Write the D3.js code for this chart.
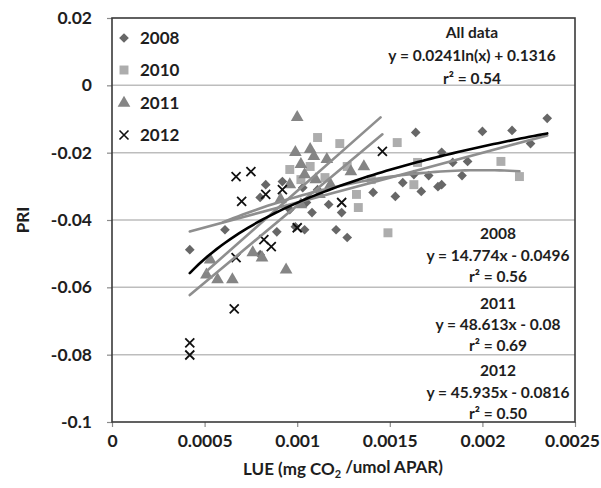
<!DOCTYPE html>
<html>
<head>
<meta charset="utf-8">
<script src="https://cdn.jsdelivr.net/npm/d3@7"></script>
<style>
  html, body { margin: 0; padding: 0; background: #fff; }
  svg { display: block; font-family: Lato, "Open Sans", sans-serif; }
</style>
</head>
<body>
<svg id="chart" width="601" height="488"></svg>
<script>
// ---- data: LUE (x) vs PRI (y) per year ----
const lue2008 = [0.00164,0.00200,0.00216,0.00235,0.00226,0.00178,0.00184,0.00192,0.00189,0.00178,0.00176,0.00167,0.00171,0.00163,0.00157,0.00153,0.00141,0.00117,0.00108,0.00105,0.00124,0.00121,0.00127,0.00104,0.00042,0.00061,0.00089,0.00080,0.00099,0.00083,0.00092,0.00080,0.00096,0.00103,0.00111];
const pri2008 = [-0.0140,-0.0137,-0.0134,-0.0098,-0.0173,-0.0199,-0.0229,-0.0226,-0.0268,-0.0295,-0.0301,-0.0315,-0.0268,-0.0265,-0.0289,-0.0330,-0.0318,-0.0354,-0.0378,-0.0348,-0.0378,-0.0429,-0.0452,-0.0429,-0.0488,-0.0429,-0.0435,-0.0503,-0.0420,-0.0295,-0.0286,-0.0333,-0.0369,-0.0304,-0.0310];

const lue2010 = [0.00111,0.00123,0.00154,0.00107,0.00132,0.00133,0.00149,0.00165,0.00210,0.00220,0.00163,0.00127,0.00096,0.00102,0.00115,0.00140];
const pri2010 = [-0.0155,-0.0173,-0.0170,-0.0241,-0.0324,-0.0363,-0.0438,-0.0229,-0.0226,-0.0271,-0.0295,-0.0241,-0.0250,-0.0280,-0.0274,-0.0280];

const lue2011 = [0.00100,0.00099,0.00107,0.00109,0.00116,0.00129,0.00136,0.00051,0.00057,0.00065,0.00076,0.00081,0.00094,0.00053,0.00102,0.00104,0.00096,0.00110,0.00091,0.00102,0.00112,0.00118];
const pri2011 = [-0.0095,-0.0199,-0.0190,-0.0211,-0.0220,-0.0256,-0.0241,-0.0563,-0.0577,-0.0577,-0.0497,-0.0512,-0.0548,-0.0518,-0.0235,-0.0265,-0.0295,-0.0280,-0.0339,-0.0354,-0.0324,-0.0295];

const lue2012 = [0.00042,0.00042,0.00066,0.00067,0.00082,0.00086,0.00100,0.00070,0.00067,0.00075,0.00083,0.00092,0.00124,0.00146];
const pri2012 = [-0.0765,-0.0801,-0.0664,-0.0512,-0.0458,-0.0479,-0.0423,-0.0345,-0.0271,-0.0256,-0.0324,-0.0310,-0.0348,-0.0196];

// legend / series names
const seriesNames = ["2008", "2010", "2011", "2012"];

// fitted trend lines: [slope, intercept] and x-extent
const fit2008 = [14.774, -0.0496], range2008 = [0.00042, 0.00235];
const fit2011 = [48.613, -0.08],   range2011 = [0.00051, 0.00145];
const fit2012 = [45.935, -0.0816], range2012 = [0.00042, 0.00146];
// 2010 polynomial fit: c0 + c1*x + c2*x^2
const fit2010 = [-0.0567, 31.496, -7874], range2010 = [0.00060, 0.00220];
// all data: a*ln(x) + b
const fitAll = [0.0241, 0.1316], rangeAll = [0.00042, 0.00235];

// axis ticks
const xTicks = [0, 0.0005, 0.001, 0.0015, 0.002, 0.0025];
const xTickLabels = ["0", "0.0005", "0.001", "0.0015", "0.002", "0.0025"];
const yTicks = [0.02, 0, -0.02, -0.04, -0.06, -0.08, -0.1];
const yTickLabels = ["0.02", "0", "-0.02", "-0.04", "-0.06", "-0.08", "-0.1"];

// annotation blocks
const noteAll = ["All data", "y = 0.0241ln(x) + 0.1316", "r\u00B2 = 0.54"];
const note2008 = ["2008", "y = 14.774x - 0.0496", "r\u00B2 = 0.56"];
const note2011 = ["2011", "y = 48.613x - 0.08", "r\u00B2 = 0.69"];
const note2012 = ["2012", "y = 45.935x - 0.0816", "r\u00B2 = 0.50"];

// ---- layout ----
const svg = d3.select("#chart");
const W = 601;
const plotLeft = 112, plotRight = 575, plotTop = 18, plotBottom = 422;
const x = d3.scaleLinear().domain([0, 0.0025]).range([plotLeft, plotRight]);
const y = d3.scaleLinear().domain([-0.1, 0.02]).range([plotBottom, plotTop]);

const textColor = "#1e1e1e";
const colors = { d2008: "#676767", d2010: "#adadad", d2011: "#858585", d2012: "#111" };

// gridlines
svg.append("g").selectAll("line")
  .data(yTicks.filter(v => v < 0.02 && v > -0.1))
  .join("line")
  .attr("x1", plotLeft).attr("x2", plotRight)
  .attr("y1", d => y(d)).attr("y2", d => y(d))
  .attr("stroke", "#bdbdbd").attr("stroke-width", 1.5);

// axes
const yAxis = d3.axisLeft(y).tickValues(yTicks)
  .tickFormat((d, i) => yTickLabels[i]).tickSize(5).tickPadding(15);
const gy = svg.append("g").attr("transform", `translate(${plotLeft},0)`).call(yAxis);
const xAxis = d3.axisBottom(x).tickValues(xTicks)
  .tickFormat((d, i) => xTickLabels[i]).tickSize(5).tickPadding(8);
const gx = svg.append("g").attr("transform", `translate(0,${plotBottom})`).call(xAxis);
[gx, gy].forEach(g => {
  g.select(".domain").remove();
  g.selectAll(".tick line").attr("stroke", "#8a8a8a").attr("stroke-width", 1.2);
  g.selectAll(".tick text").attr("fill", textColor)
    .attr("font-size", 17.5).attr("font-weight", "bold")
    .attr("font-family", "Lato, sans-serif");
});
// keep the last x label inside the page
gx.selectAll(".tick text").each(function () {
  const b = this.getBBox();
  const tx = +this.parentNode.getAttribute("transform").match(/translate\(([-\d.]+)/)[1];
  const overflow = tx + b.x + b.width - (W - 1);
  if (overflow > 0) d3.select(this).attr("dx", -overflow);
});

// plot frame
svg.append("rect")
  .attr("x", plotLeft).attr("y", plotTop)
  .attr("width", plotRight - plotLeft).attr("height", plotBottom - plotTop)
  .attr("fill", "none").attr("stroke", "#3a3a3a").attr("stroke-width", 1.6);

// ---- markers ----
const diamond = d3.symbol().type(d3.symbolDiamond2).size(60);
const square = d3.symbol().type(d3.symbolSquare).size(80);
const triangle = d3.symbol().type(d3.symbolTriangle).size(70);

function drawSymbols(xs, ys, sym, fill) {
  svg.append("g").selectAll("path")
    .data(xs.map((v, i) => [v, ys[i]]))
    .join("path")
    .attr("transform", d => `translate(${x(d[0])},${y(d[1])})`)
    .attr("d", sym)
    .attr("fill", fill);
}
function drawCrosses(xs, ys, color) {
  const s = 4.5;
  svg.append("g").selectAll("path")
    .data(xs.map((v, i) => [v, ys[i]]))
    .join("path")
    .attr("transform", d => `translate(${x(d[0])},${y(d[1])})`)
    .attr("d", `M${-s},${-s}L${s},${s}M${-s},${s}L${s},${-s}`)
    .attr("stroke", color).attr("stroke-width", 1.8).attr("fill", "none");
}

drawSymbols(lue2008, pri2008, diamond(), colors.d2008);
drawSymbols(lue2010, pri2010, square(), colors.d2010);
drawSymbols(lue2011, pri2011, triangle(), colors.d2011);
drawCrosses(lue2012, pri2012, colors.d2012);

// ---- trend lines ----
const line = d3.line().x(d => x(d[0])).y(d => y(d[1]));
function sampleFn(fn, range, n) {
  const pts = [];
  for (let i = 0; i <= n; i++) {
    const xv = range[0] + (range[1] - range[0]) * i / n;
    pts.push([xv, fn(xv)]);
  }
  return pts;
}
const trendGray = "#8e8e8e";
const trends = [
  [sampleFn(v => fit2008[0] * v + fit2008[1], range2008, 2), trendGray],
  [sampleFn(v => fit2010[0] + fit2010[1] * v + fit2010[2] * v * v, range2010, 60), trendGray],
  [sampleFn(v => fit2011[0] * v + fit2011[1], range2011, 2), trendGray],
  [sampleFn(v => fit2012[0] * v + fit2012[1], range2012, 2), trendGray],
  [sampleFn(v => fitAll[0] * Math.log(v) + fitAll[1], rangeAll, 80), "#000"]
];
svg.append("g").selectAll("path")
  .data(trends)
  .join("path")
  .attr("d", d => line(d[0]))
  .attr("fill", "none")
  .attr("stroke", d => d[1])
  .attr("stroke-width", 2.6)
  .attr("stroke-linecap", "round");

// ---- legend ----
const legendY = [38, 70, 103, 135];
const legend = svg.append("g");
const legendSyms = [
  g => g.append("path").attr("d", diamond()).attr("fill", colors.d2008),
  g => g.append("path").attr("d", square()).attr("fill", colors.d2010),
  g => g.append("path").attr("d", triangle()).attr("fill", colors.d2011),
  g => g.append("path").attr("d", "M-4.5,-4.5L4.5,4.5M-4.5,4.5L4.5,-4.5")
        .attr("stroke", colors.d2012).attr("stroke-width", 1.6).attr("fill", "none")
];
seriesNames.forEach((name, i) => {
  const g = legend.append("g").attr("transform", `translate(124,${legendY[i]})`);
  legendSyms[i](g);
  g.append("text").attr("x", 16).attr("y", 0).attr("dy", "0.36em")
    .attr("font-size", 17).attr("font-weight", "bold").attr("fill", textColor)
    .text(name);
});

// ---- annotation blocks ----
function note(lines, cx, ys) {
  svg.append("g").selectAll("text")
    .data(lines)
    .join("text")
    .attr("x", cx).attr("y", (d, i) => ys[i]).attr("dy", "0.36em")
    .attr("text-anchor", "middle")
    .attr("font-size", 15.5).attr("font-weight", "bold").attr("fill", textColor)
    .text(d => d);
}
note(noteAll, 472, [32, 55, 78]);
note(note2008, 498, [233, 255, 276]);
note(note2011, 498, [303, 324, 345]);
note(note2012, 498, [370, 392, 413]);

// ---- axis titles ----
svg.append("text")
  .attr("transform", "translate(23,220) rotate(-90)")
  .attr("text-anchor", "middle").attr("dy", "0.36em")
  .attr("font-size", 17).attr("font-weight", "bold").attr("fill", textColor)
  .text("PRI");

const xt = svg.append("text")
  .attr("x", 343).attr("y", 469).attr("dy", "0.36em")
  .attr("text-anchor", "middle")
  .attr("font-size", 17).attr("font-weight", "bold").attr("fill", textColor);
xt.append("tspan").text("LUE (mg CO");
xt.append("tspan").attr("font-size", 11).attr("dy", "0.3em").text("2");
xt.append("tspan").attr("dy", "-0.3em").text(" /umol APAR)");
</script>
</body>
</html>
